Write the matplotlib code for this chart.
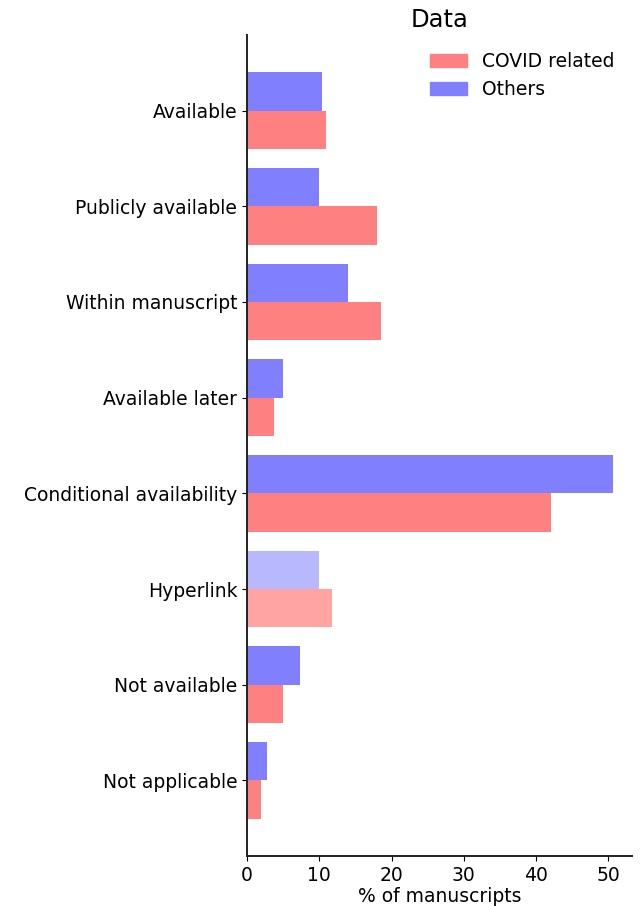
import matplotlib
matplotlib.use("Agg")
import matplotlib.pyplot as plt
import numpy as np

categories = ["Available", "Publicly available", "Within manuscript", "Available later",
              "Conditional availability", "Hyperlink", "Not available", "Not applicable"]
covid = [11.0, 18.0, 18.5, 3.8, 42.0, 11.8, 5.0, 1.9]
others = [10.4, 9.9, 14.0, 5.0, 50.7, 9.9, 7.4, 2.8]
light_category = "Hyperlink"

plt.rcParams['font.family'] = ['DejaVu Sans']
fig = plt.figure(figsize=(6.44, 9.06), dpi=100)
ax = fig.add_axes([0.3835, 0.0552, 0.5975, 0.9062])

y = np.arange(len(categories))
h = 0.4
red = "#FF8080"
blue = "#8080FF"
red_l = "#FFA3A3"
blue_l = "#B8B8FF"
cov_colors = [red_l if c == light_category else red for c in categories]
oth_colors = [blue_l if c == light_category else blue for c in categories]

b1 = ax.barh(y + h / 2, covid, height=h, color=cov_colors, label="COVID related")
b2 = ax.barh(y - h / 2, others, height=h, color=oth_colors, label="Others")

ax.set_yticks(y)
ax.set_yticklabels(categories, fontsize=13.5)
ax.invert_yaxis()
ax.set_xticks([0, 10, 20, 30, 40, 50])
ax.tick_params(axis='x', labelsize=13.5)
ax.set_xlabel("% of manuscripts", fontsize=13.5, labelpad=2)
ax.set_title("Data", fontsize=17.5)
for s in ["top", "right"]:
    ax.spines[s].set_visible(False)
for s in ["left", "bottom"]:
    ax.spines[s].set_linewidth(1.4)
    ax.spines[s].set_color("#222222")

from matplotlib.patches import Patch
ax.legend(handles=[Patch(color=red, label="COVID related"), Patch(color=blue, label="Others")],
          loc="upper right", frameon=False, fontsize=13.5)

fig.savefig("out.png", dpi=100)
